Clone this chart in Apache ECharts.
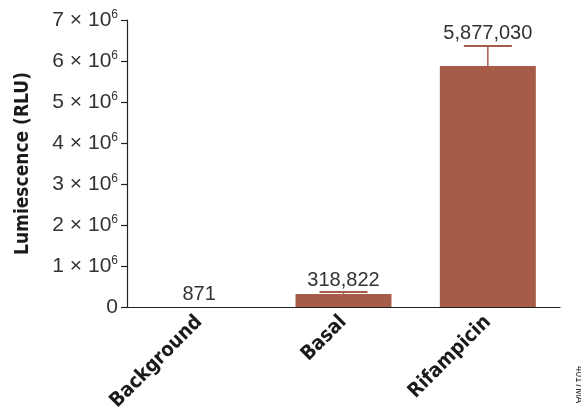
<!DOCTYPE html>
<html>
<head>
<meta charset="utf-8">
<script src="https://cdn.jsdelivr.net/npm/echarts@6/dist/echarts.min.js"></script>
<style>
  html, body { margin: 0; padding: 0; background: #fff; }
  #chart { width: 581px; height: 412px; }
</style>
</head>
<body>
<div id="chart"></div>
<script>
// data
const categories = ['Background', 'Basal', 'Rifampicin']
const values = [871, 318822, 5877030]
const errors = [0, 45000, 490000]
const yTicks = [0, 1e6, 2e6, 3e6, 4e6, 5e6, 6e6, 7e6]

const barColor = '#a75c4a'
const chart = echarts.init(document.getElementById('chart'))

// y tick label like "3 × 10^6"
function tickLabel(v) {
  if (v === 0) return '{n|0}'
  const m = Math.round(v / 1e6)
  return '{n|' + m + ' × 10}{s|6}'
}

const boldFont = '"DejaVu Sans Condensed", "Liberation Sans", sans-serif'

const option = {
  animation: false,
  grid: { left: 127, right: 21, top: 20, bottom: 105, outerBoundsMode: 'none', containLabel: false },
  xAxis: {
    type: 'category',
    data: categories,
    axisLine: { lineStyle: { color: '#222', width: 1.2 } },
    axisTick: { show: false },
    axisLabel: {
      rotate: 45,
      interval: 0,
      margin: 12,
      fontFamily: boldFont,
      fontWeight: 'bold',
      fontSize: 20,
      color: '#1a1a1a'
    }
  },
  yAxis: {
    type: 'value',
    min: 0,
    max: 7e6,
    interval: 1e6,
    name: 'Lumiescence (RLU)',
    nameLocation: 'middle',
    nameGap: 94,
    nameTextStyle: {
      fontFamily: boldFont,
      fontWeight: 'bold',
      fontSize: 19,
      color: '#1a1a1a'
    },
    axisLine: { show: true, lineStyle: { color: '#222', width: 1.2 } },
    axisTick: { show: true, length: 6, lineStyle: { color: '#222', width: 1.2 } },
    splitLine: { show: false },
    axisLabel: {
      margin: 9,
      formatter: tickLabel,
      rich: {
        n: { fontFamily: 'Liberation Sans', fontSize: 21, color: '#333' },
        s: { fontFamily: 'Liberation Sans', fontSize: 12, color: '#333', verticalAlign: 'top', padding: [0, 0, 10, 0] }
      }
    }
  },
  series: [
    {
      type: 'bar',
      data: values,
      barWidth: '66.5%',
      itemStyle: { color: barColor }
    },
    {
      type: 'custom',
      data: values.map((v, i) => [i, v, errors[i]]),
      z: 3,
      renderItem: function (params, api) {
        const i = api.value(0)
        const v = api.value(1)
        const e = api.value(2)
        const base = api.coord([i, v])
        const top = api.coord([i, v + e])
        const half = 24
        const children = []
        if (e > 0) {
          children.push({
            type: 'line',
            shape: { x1: base[0], y1: base[1], x2: top[0], y2: top[1] },
            style: { stroke: barColor, lineWidth: 1.5 }
          })
          children.push({
            type: 'line',
            shape: { x1: top[0] - half, y1: top[1], x2: top[0] + half, y2: top[1] },
            style: { stroke: barColor, lineWidth: 2 }
          })
        }
        children.push({
          type: 'text',
          style: {
            x: top[0],
            y: top[1] - 2,
            text: v.toLocaleString('en-US'),
            fill: '#333',
            font: '20px "Liberation Sans"',
            textAlign: 'center',
            textVerticalAlign: 'bottom'
          }
        })
        return { type: 'group', children: children }
      }
    }
  ],
  graphic: [
    {
      type: 'text',
      right: -3,
      top: 366,
      rotation: -Math.PI / 2,
      style: {
        text: '4017MA',
        font: '10px "Liberation Sans"',
        fill: '#333'
      }
    }
  ]
}

chart.setOption(option)

window.addEventListener('resize', () => {
  chart.resize()
})
</script>
</body>
</html>
